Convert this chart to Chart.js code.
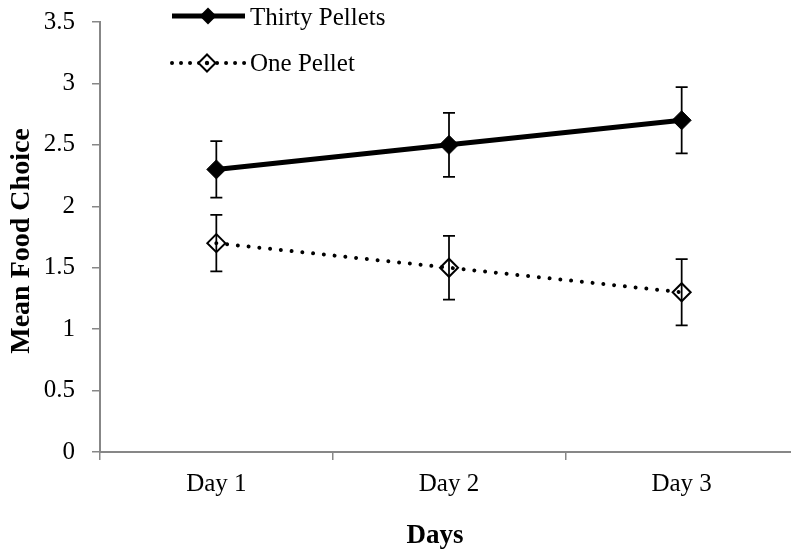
<!DOCTYPE html>
<html>
<head>
<meta charset="utf-8">
<script src="https://cdn.jsdelivr.net/npm/chart.js@4/dist/chart.umd.min.js"></script>
<style>
  html, body { margin: 0; padding: 0; background: #ffffff; overflow: hidden; }
  canvas { display: block; }
</style>
</head>
<body>
<canvas id="chart" width="820" height="556" style="width:820px;height:556px"></canvas>
<script>
// Mean food choice over three days, by pellet count
const days = ['Day 1', 'Day 2', 'Day 3'];
const seriesNames = ['Thirty Pellets', 'One Pellet'];
const thirtyPellets = [2.3, 2.5, 2.7];
const onePellet = [1.7, 1.5, 1.3];
const thirtyPelletsErr = [0.23, 0.26, 0.27];
const onePelletErr = [0.23, 0.26, 0.27];
const yTickValues = [0, 0.5, 1, 1.5, 2, 2.5, 3, 3.5];
const xAxisTitle = 'Days';
const yAxisTitle = 'Mean Food Choice';

const SERIF = "'Liberation Serif', 'Times New Roman', serif";
const AXIS_GREY = '#878787';

// vertical error bars with caps, drawn over the markers
const errorBars = {
  id: 'errorBars',
  afterDatasetsDraw(chart) {
    const ctx = chart.ctx;
    const yScale = chart.scales.y;
    chart.data.datasets.forEach((ds, i) => {
      const meta = chart.getDatasetMeta(i);
      meta.data.forEach((pt, j) => {
        const v = ds.data[j], e = ds.errors[j];
        const top = yScale.getPixelForValue(v + e);
        const bot = yScale.getPixelForValue(v - e);
        ctx.save();
        ctx.strokeStyle = '#000';
        ctx.lineWidth = 1.75;
        ctx.beginPath();
        ctx.moveTo(pt.x, top); ctx.lineTo(pt.x, bot);
        ctx.moveTo(pt.x - 6, top); ctx.lineTo(pt.x + 6, top);
        ctx.moveTo(pt.x - 6, bot); ctx.lineTo(pt.x + 6, bot);
        ctx.stroke();
        ctx.restore();
      });
    });
  }
};

function diamond(ctx, x, y, r) {
  ctx.beginPath();
  ctx.moveTo(x - r, y); ctx.lineTo(x, y - r); ctx.lineTo(x + r, y); ctx.lineTo(x, y + r);
  ctx.closePath();
}

// axis titles and the two-row legend in the top left
const annotations = {
  id: 'annotations',
  afterDraw(chart) {
    const ctx = chart.ctx;
    ctx.save();
    ctx.fillStyle = '#000';
    ctx.textAlign = 'center';
    ctx.textBaseline = 'middle';
    ctx.font = "bold 27px " + SERIF;
    ctx.fillText(xAxisTitle, 435, 536);
    ctx.save();
    ctx.font = "bold 28px " + SERIF;
    ctx.translate(22, 241);
    ctx.rotate(-Math.PI / 2);
    ctx.fillText(yAxisTitle, 0, 0);
    ctx.restore();

    // legend row 1: solid line with filled diamond
    ctx.strokeStyle = '#000';
    ctx.lineWidth = 5;
    ctx.beginPath(); ctx.moveTo(172, 16); ctx.lineTo(245, 16); ctx.stroke();
    diamond(ctx, 208, 16, 8.5); ctx.fill();

    // legend row 2: dotted line with open diamond
    ctx.lineWidth = 4;
    ctx.lineCap = 'round';
    ctx.setLineDash([0.01, 9]);
    ctx.beginPath(); ctx.moveTo(172, 63); ctx.lineTo(245, 63); ctx.stroke();
    ctx.setLineDash([]);
    ctx.lineCap = 'butt';
    ctx.fillStyle = '#fff';
    diamond(ctx, 207, 63, 8.5); ctx.fill();
    ctx.lineWidth = 2; ctx.stroke();
    ctx.fillStyle = '#000';
    ctx.beginPath(); ctx.arc(207, 63, 2.2, 0, Math.PI * 2); ctx.fill();

    ctx.font = "25px " + SERIF;
    ctx.textAlign = 'left';
    ctx.fillText(chart.data.datasets[0].label, 250, 18);
    ctx.fillText(chart.data.datasets[1].label, 250, 64);
    ctx.restore();
  }
};

new Chart(document.getElementById('chart'), {
  type: 'line',
  data: {
    labels: days,
    datasets: [
      {
        label: seriesNames[0],
        data: thirtyPellets,
        errors: thirtyPelletsErr,
        borderColor: '#000',
        borderWidth: 5,
        pointStyle: 'rectRot',
        pointRadius: 9.5,
        pointBackgroundColor: '#000',
        pointBorderColor: '#000',
        pointBorderWidth: 1,
        tension: 0
      },
      {
        label: seriesNames[1],
        data: onePellet,
        errors: onePelletErr,
        borderColor: '#000',
        borderWidth: 4,
        borderDash: [0.01, 10.8],
        borderCapStyle: 'round',
        pointStyle: 'rectRot',
        pointRadius: 9,
        pointBackgroundColor: 'rgba(255,255,255,0)',
        pointBorderColor: '#000',
        pointBorderWidth: 2,
        tension: 0
      }
    ]
  },
  options: {
    responsive: false,
    devicePixelRatio: 1,
    animation: false,
    events: [],
    layout: { padding: { top: 22, right: 22, left: 0, bottom: 0 } },
    plugins: { legend: { display: false }, tooltip: { enabled: false } },
    scales: {
      x: {
        offset: true,
        grid: { offset: true, drawOnChartArea: false, drawTicks: true, tickLength: 8, color: AXIS_GREY, lineWidth: 1.5 },
        border: { display: true, color: AXIS_GREY, width: 2 },
        ticks: { color: '#000', font: { family: SERIF, size: 25 }, padding: 9, maxRotation: 0 },
        afterFit(s) { s.height = 104; s.paddingLeft = 0; s.paddingRight = 0; }
      },
      y: {
        min: 0,
        max: 3.5,
        afterBuildTicks(s) { s.ticks = yTickValues.map(v => ({ value: v })); },
        grid: { drawOnChartArea: false, drawTicks: true, tickLength: 8, color: AXIS_GREY, lineWidth: 1.5 },
        border: { display: true, color: AXIS_GREY, width: 2 },
        ticks: { color: '#000', font: { family: SERIF, size: 25 }, padding: 17, callback: v => String(v) },
        afterFit(s) { s.width = 100; s.paddingTop = 0; s.paddingBottom = 0; }
      }
    }
  },
  plugins: [errorBars, annotations]
});
</script>
</body>
</html>
